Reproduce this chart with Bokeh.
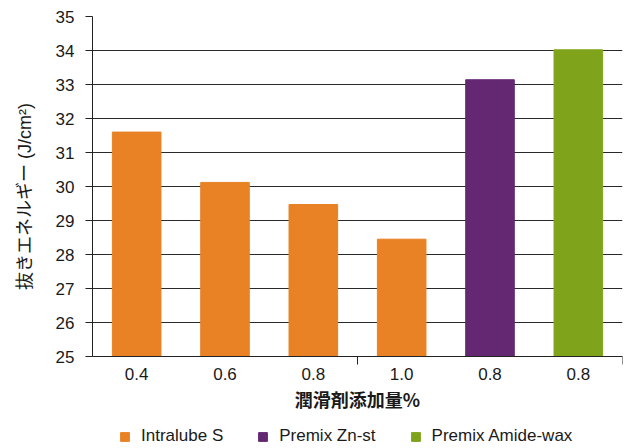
from bokeh.plotting import figure
from bokeh.models import ColumnDataSource, Range1d, FixedTicker, Legend
from bokeh.embed import file_html
from bokeh.resources import INLINE

# data
categories = ["0.4", "0.6", "0.8", "1.0", "0.8", "0.8"]
values = [31.6, 30.12, 29.47, 28.45, 33.14, 34.02]
series = ["Intralube S", "Intralube S", "Intralube S", "Intralube S", "Premix Zn-st", "Premix Amide-wax"]
series_colors = {"Intralube S": "#E88224", "Premix Zn-st": "#642873", "Premix Amide-wax": "#7FA41B"}
y_ticks = list(range(25, 36))
y_title = "抜きエネルギー (J/cm²)"
x_title = "潤滑剤添加量%"

Y_MIN, Y_MAX = 25, 35
FRAME_H = 430          # frame extends below the x axis to hold labels + legend
PX_PER_UNIT = 34.0
y_start = Y_MAX - FRAME_H / PX_PER_UNIT

xpos = [i + 0.5 for i in range(len(categories))]
src = ColumnDataSource(dict(x=xpos, top=values, series=series,
                            color=[series_colors[s] for s in series]))

p = figure(output_backend="svg", toolbar_location=None,
           frame_width=530, frame_height=FRAME_H,
           x_range=Range1d(0, 6), y_range=Range1d(y_start, Y_MAX),
           min_border_left=92, min_border_top=16, min_border_right=5, min_border_bottom=0)
p.outline_line_color = None
p.background_fill_color = "white"
p.border_fill_color = "white"

p.vbar(x="x", top="top", bottom=Y_MIN, width=0.55, color="color", source=src,
       legend_field="series")

FONT = "Liberation Sans"
MIXED = "Liberation Sans, Noto Sans CJK JP"
TXT = "#1a1a1a"

# y axis
p.yaxis.ticker = FixedTicker(ticks=y_ticks)
p.yaxis.bounds = (Y_MIN, Y_MAX)
p.yaxis.major_tick_out = 7
p.yaxis.major_tick_in = 0
p.yaxis.minor_tick_line_color = None
p.yaxis.axis_line_color = "#222222"
p.yaxis.major_tick_line_color = "#222222"
p.yaxis.major_label_text_font = FONT
p.yaxis.major_label_text_font_size = "17px"
p.yaxis.major_label_text_color = TXT
p.yaxis.major_label_standoff = 11
p.yaxis.axis_label = "\u00a0" * 14 + y_title
p.yaxis.axis_label_text_font = MIXED
p.yaxis.axis_label_text_font_style = "normal"
p.yaxis.axis_label_text_font_size = "18px"
p.yaxis.axis_label_text_color = TXT
p.yaxis.axis_label_standoff = 18

# x axis (drawn at y = 25 inside the frame)
p.xaxis.fixed_location = Y_MIN
p.xaxis.ticker = FixedTicker(ticks=xpos, minor_ticks=[3, 6])
p.xaxis.major_label_overrides = {x: c for x, c in zip(xpos, categories)}
p.xaxis.major_tick_line_color = None
p.xaxis.major_tick_out = 0
p.xaxis.major_tick_in = 0
p.xaxis.minor_tick_out = 8
p.xaxis.minor_tick_in = 0
p.xaxis.minor_tick_line_color = "#222222"
p.xaxis.axis_line_color = "#222222"
p.xaxis.major_label_text_font = FONT
p.xaxis.major_label_text_font_size = "17px"
p.xaxis.major_label_text_color = TXT
p.xaxis.major_label_standoff = 3
p.xaxis.axis_label = x_title
p.xaxis.axis_label_text_font = "Noto Sans CJK JP"
p.xaxis.axis_label_text_font_style = "bold"
p.xaxis.axis_label_text_font_size = "18px"
p.xaxis.axis_label_text_color = TXT
p.xaxis.axis_label_standoff = 3

# grid
p.xgrid.grid_line_color = None
p.ygrid.ticker = FixedTicker(ticks=y_ticks)
p.ygrid.grid_line_color = "#2a2a2a"
p.ygrid.grid_line_width = 1

# legend (inside the frame, under the axis title)
leg = p.legend[0]
leg.orientation = "horizontal"
leg.location = (27, 0)
leg.padding = 0
leg.margin = 0
leg.spacing = 34
leg.glyph_width = 11
leg.glyph_height = 11
leg.label_standoff = 11
leg.label_height = 18
leg.label_text_font = FONT
leg.label_text_font_size = "17px"
leg.label_text_color = TXT
leg.border_line_color = None
leg.background_fill_alpha = 0

open("out.html", "w").write(file_html(p, INLINE))
